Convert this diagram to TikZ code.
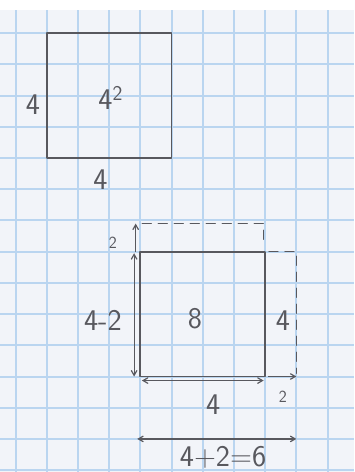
\documentclass[tikz,border=0pt]{standalone}
\usepackage{tikz}
\usetikzlibrary{
  arrows,
  calc,
  positioning
}
\tikzset{>=angle 60}
\definecolor{paper}{RGB}{242,244,249}
\definecolor{gridblue}{RGB}{186,213,240}
\definecolor{pencil}{RGB}{88,88,94}
\tikzset{
  pencil/.style={draw=pencil, line width=1.8pt, line cap=round, line join=round},
  % dashed extension of the square
  extension/.style={pencil, line width=1.3pt, dash pattern=on 9pt off 7pt},
  dimline/.style={draw=pencil, line width=1.2pt},
  hand/.style={text=pencil, font=\sffamily\fontsize{30}{30}\selectfont, inner sep=0pt},
  smallhand/.style={text=pencil, font=\sffamily\fontsize{17}{17}\selectfont, inner sep=0pt}
}

\begin{document}
\begin{tikzpicture}[x=31.2pt, y=-31.2pt]
    \useasboundingbox (-0.497,-0.064) rectangle (10.85,15.06);
    % graph paper
    \fill[paper] (-0.497,-0.064) rectangle (10.85,15.06);
    \foreach \x in {0,...,10}
    {
      \draw[gridblue, line width=2pt] (\x,0.26) -- (\x,15.06);
    }
    \foreach \y in {1,...,15}
    {
      \draw[gridblue, line width=2pt] (-0.497,\y) -- (10.85,\y);
    }
    \fill[white] (-0.497,-0.064) rectangle (10.85,0.26);

    % the square 4 by 4
    \draw[pencil] (1,1) rectangle (5,5);
    \node[hand] (sideL) at (0.56,3.3) {4};
    \node[hand] (area) at (3.05,3.08) {4\textsuperscript{2}};
    \node[hand] (sideB) at (2.72,5.7) {4};

    % the rectangle 4-2 by 4+2
    \coordinate (nw) at (4,8);
    \coordinate (ne) at (8,8);
    \coordinate (se) at (8,12);
    \coordinate (sw) at (4,12);
    \draw[pencil] (nw) -- (ne) -- (se) -- (sw) -- cycle;
    \draw[extension] ($(nw)+(0.06,-0.9)$) -- ($(ne)+(-0.05,-0.9)$) -- ($(ne)+(-0.05,-0.25)$);
    \draw[extension] ($(ne)+(0.12,0)$) -- ($(ne)+(1,0)$) -- ($(se)+(1,-0.1)$);

    % dimensions
    \coordinate (upTop) at ($(nw)+(-0.15,-0.9)$);
    \coordinate (upBot) at ($(nw)+(-0.15,0)$);
    \coordinate (hTop) at ($(nw)+(-0.2,0.05)$);
    \coordinate (hBot) at ($(sw)+(-0.2,0)$);
    \coordinate (wL) at ($(sw)+(0.05,0.13)$);
    \coordinate (wR) at ($(se)+(-0.05,0.13)$);
    \coordinate (xL) at ($(se)+(0.08,0)$);
    \coordinate (xR) at ($(se)+(1,0)$);
    \coordinate (totL) at (3.9,14.0);
    \coordinate (totR) at (9.0,14.0);
    \draw[dimline, ->] (upBot) -- (upTop);
    \draw[dimline, <->] (hBot) -- (hTop);
    \draw[dimline, <->] (wL) -- (wR);
    \draw[dimline, ->] (xL) -- (xR);
    \draw[dimline, <->] (totL) -- (totR);

    \node[smallhand] (up) at (3.12,7.72) {2};
    \node[hand] (height) at (2.8,10.2) {4-2};
    \node[hand] (area2) at (5.75,10.16) {8};
    \node[hand] (side2) at (8.57,10.2) {4};
    \node[hand] (width) at (6.33,12.9) {4};
    \node[smallhand] (extra) at (8.57,12.64) {2};
    \node[hand] (total) at (6.65,14.6) {4+2=6};
  \end{tikzpicture}
\end{document}
